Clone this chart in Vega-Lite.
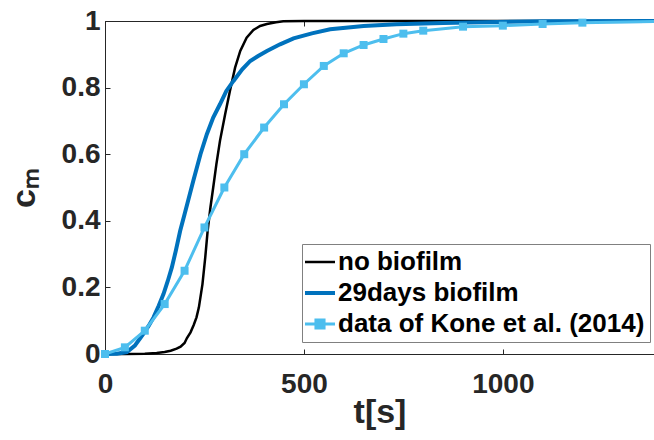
{
  "$schema": "https://vega.github.io/schema/vega-lite/v6.json",
  "width": 549,
  "height": 333,
  "autosize": {"type": "none"},
  "padding": {"left": 105, "top": 21, "right": 0, "bottom": 86},
  "datasets": {
    "model": [
      {"t": 0, "c": 0, "series": "no biofilm"},
      {"t": 50, "c": 0, "series": "no biofilm"},
      {"t": 100, "c": 0.001, "series": "no biofilm"},
      {"t": 130, "c": 0.003, "series": "no biofilm"},
      {"t": 150, "c": 0.006, "series": "no biofilm"},
      {"t": 165, "c": 0.01, "series": "no biofilm"},
      {"t": 180, "c": 0.016, "series": "no biofilm"},
      {"t": 190, "c": 0.022, "series": "no biofilm"},
      {"t": 200, "c": 0.033, "series": "no biofilm"},
      {"t": 206, "c": 0.048, "series": "no biofilm"},
      {"t": 215, "c": 0.065, "series": "no biofilm"},
      {"t": 223, "c": 0.087, "series": "no biofilm"},
      {"t": 230, "c": 0.11, "series": "no biofilm"},
      {"t": 236, "c": 0.14, "series": "no biofilm"},
      {"t": 245, "c": 0.21, "series": "no biofilm"},
      {"t": 252, "c": 0.29, "series": "no biofilm"},
      {"t": 258, "c": 0.37, "series": "no biofilm"},
      {"t": 265, "c": 0.44, "series": "no biofilm"},
      {"t": 272, "c": 0.5, "series": "no biofilm"},
      {"t": 280, "c": 0.57, "series": "no biofilm"},
      {"t": 289, "c": 0.64, "series": "no biofilm"},
      {"t": 302, "c": 0.72, "series": "no biofilm"},
      {"t": 314, "c": 0.79, "series": "no biofilm"},
      {"t": 327, "c": 0.86, "series": "no biofilm"},
      {"t": 340, "c": 0.91, "series": "no biofilm"},
      {"t": 356, "c": 0.95, "series": "no biofilm"},
      {"t": 373, "c": 0.973, "series": "no biofilm"},
      {"t": 390, "c": 0.985, "series": "no biofilm"},
      {"t": 407, "c": 0.991, "series": "no biofilm"},
      {"t": 430, "c": 0.996, "series": "no biofilm"},
      {"t": 448, "c": 0.999, "series": "no biofilm"},
      {"t": 500, "c": 1, "series": "no biofilm"},
      {"t": 1400, "c": 1, "series": "no biofilm"},
      {"t": 0, "c": 0, "series": "29days biofilm"},
      {"t": 30, "c": 0.001, "series": "29days biofilm"},
      {"t": 55, "c": 0.006, "series": "29days biofilm"},
      {"t": 75, "c": 0.025, "series": "29days biofilm"},
      {"t": 96, "c": 0.06, "series": "29days biofilm"},
      {"t": 110, "c": 0.085, "series": "29days biofilm"},
      {"t": 122, "c": 0.11, "series": "29days biofilm"},
      {"t": 135, "c": 0.145, "series": "29days biofilm"},
      {"t": 147, "c": 0.18, "series": "29days biofilm"},
      {"t": 158, "c": 0.22, "series": "29days biofilm"},
      {"t": 168, "c": 0.26, "series": "29days biofilm"},
      {"t": 178, "c": 0.31, "series": "29days biofilm"},
      {"t": 189, "c": 0.37, "series": "29days biofilm"},
      {"t": 200, "c": 0.42, "series": "29days biofilm"},
      {"t": 211, "c": 0.47, "series": "29days biofilm"},
      {"t": 222, "c": 0.52, "series": "29days biofilm"},
      {"t": 240, "c": 0.6, "series": "29days biofilm"},
      {"t": 256, "c": 0.66, "series": "29days biofilm"},
      {"t": 272, "c": 0.71, "series": "29days biofilm"},
      {"t": 289, "c": 0.75, "series": "29days biofilm"},
      {"t": 305, "c": 0.79, "series": "29days biofilm"},
      {"t": 323, "c": 0.82, "series": "29days biofilm"},
      {"t": 345, "c": 0.855, "series": "29days biofilm"},
      {"t": 365, "c": 0.88, "series": "29days biofilm"},
      {"t": 385, "c": 0.895, "series": "29days biofilm"},
      {"t": 407, "c": 0.91, "series": "29days biofilm"},
      {"t": 440, "c": 0.93, "series": "29days biofilm"},
      {"t": 474, "c": 0.948, "series": "29days biofilm"},
      {"t": 520, "c": 0.963, "series": "29days biofilm"},
      {"t": 566, "c": 0.975, "series": "29days biofilm"},
      {"t": 650, "c": 0.985, "series": "29days biofilm"},
      {"t": 733, "c": 0.99, "series": "29days biofilm"},
      {"t": 850, "c": 0.994, "series": "29days biofilm"},
      {"t": 985, "c": 0.997, "series": "29days biofilm"},
      {"t": 1100, "c": 0.999, "series": "29days biofilm"},
      {"t": 1400, "c": 1, "series": "29days biofilm"}
    ],
    "kone": [
      {"t": 0, "c": 0, "series": "data of Kone et al. (2014)"},
      {"t": 50, "c": 0.02, "series": "data of Kone et al. (2014)"},
      {"t": 100, "c": 0.07, "series": "data of Kone et al. (2014)"},
      {"t": 150, "c": 0.15, "series": "data of Kone et al. (2014)"},
      {"t": 200, "c": 0.25, "series": "data of Kone et al. (2014)"},
      {"t": 250, "c": 0.38, "series": "data of Kone et al. (2014)"},
      {"t": 300, "c": 0.5, "series": "data of Kone et al. (2014)"},
      {"t": 350, "c": 0.6, "series": "data of Kone et al. (2014)"},
      {"t": 400, "c": 0.68, "series": "data of Kone et al. (2014)"},
      {"t": 450, "c": 0.75, "series": "data of Kone et al. (2014)"},
      {"t": 500, "c": 0.81, "series": "data of Kone et al. (2014)"},
      {"t": 550, "c": 0.865, "series": "data of Kone et al. (2014)"},
      {"t": 600, "c": 0.903, "series": "data of Kone et al. (2014)"},
      {"t": 650, "c": 0.928, "series": "data of Kone et al. (2014)"},
      {"t": 700, "c": 0.946, "series": "data of Kone et al. (2014)"},
      {"t": 750, "c": 0.962, "series": "data of Kone et al. (2014)"},
      {"t": 800, "c": 0.971, "series": "data of Kone et al. (2014)"},
      {"t": 900, "c": 0.983, "series": "data of Kone et al. (2014)"},
      {"t": 1000, "c": 0.986, "series": "data of Kone et al. (2014)"},
      {"t": 1100, "c": 0.991, "series": "data of Kone et al. (2014)"},
      {"t": 1200, "c": 0.995, "series": "data of Kone et al. (2014)"},
      {"t": 1400, "c": 0.999, "series": "data of Kone et al. (2014)"}
    ]
  },
  "config": {
    "font": "Liberation Sans",
    "view": {"stroke": "#262626", "strokeWidth": 1},
    "axis": {
      "grid": false,
      "labelFont": "Liberation Sans",
      "labelFontWeight": "bold",
      "labelFontSize": 28,
      "labelColor": "#262626",
      "labelFlush": false,
      "labelOverlap": false,
      "titleFont": "Liberation Sans",
      "titleFontWeight": "bold",
      "titleFontSize": 34,
      "titleColor": "#262626",
      "domainColor": "#262626",
      "domainWidth": 1,
      "tickColor": "#262626",
      "tickSize": -5,
      "tickWidth": 1
    },
    "legend": {
      "orient": "none",
      "legendX": 197,
      "legendY": 223,
      "strokeColor": "#808080",
      "fillColor": "white",
      "padding": 5,
      "labelFont": "Liberation Sans",
      "labelFontSize": 26,
      "labelFontWeight": "bold",
      "labelColor": "#000000",
      "labelLimit": 400,
      "symbolType": "stroke",
      "symbolSize": 900,
      "labelOffset": 5,
      "rowPadding": 5,
      "cornerRadius": 0
    }
  },
  "resolve": {"axis": {"x": "independent", "y": "independent"}},
  "layer": [
    {
      "data": {"name": "model"},
      "mark": {"type": "line"},
      "encoding": {
        "x": {
          "field": "t", "type": "quantitative",
          "scale": {"domain": [0, 1380], "nice": false, "zero": false},
          "axis": {"values": [0, 500, 1000], "format": "d", "title": "t[s]", "labelPadding": 21, "titlePadding": -3}
        },
        "y": {
          "field": "c", "type": "quantitative",
          "scale": {"domain": [0, 1], "nice": false},
          "axis": {"values": [0, 0.2, 0.4, 0.6, 0.8, 1], "format": ".1~f", "title": "cₘ", "labelPadding": 10, "titlePadding": 20}
        },
        "color": {
          "field": "series", "type": "nominal",
          "scale": {
            "domain": ["no biofilm", "29days biofilm", "data of Kone et al. (2014)"],
            "range": ["#000000", "#0072BD", "#4DBEEE"]
          },
          "legend": {
            "title": null,
            "encode": {
              "symbols": {
                "update": {
                  "shape": {"signal": "datum.value === 'data of Kone et al. (2014)' ? 'M-1,0H1M-0.27,-0.27H0.27V0.27H-0.27Z' : 'stroke'"},
                  "strokeWidth": {"signal": "datum.value === 'no biofilm' ? 2.5 : (datum.value === '29days biofilm' ? 4 : 3)"},
                  "fill": {"signal": "datum.value === 'data of Kone et al. (2014)' ? '#4DBEEE' : 'transparent'"},
                  "opacity": {"value": 1}
                }
              }
            }
          }
        },
        "strokeWidth": {
          "field": "series", "type": "nominal",
          "scale": {"domain": ["no biofilm", "29days biofilm"], "range": [2.5, 4]},
          "legend": null
        }
      }
    },
    {
      "data": {"name": "kone"},
      "mark": {"type": "line", "strokeWidth": 3, "point": {"shape": "square", "filled": true, "size": 64, "opacity": 1}},
      "encoding": {
        "x": {
          "field": "t", "type": "quantitative",
          "axis": {"orient": "top", "values": [0, 500, 1000], "labels": false, "title": null, "domain": false}
        },
        "y": {"field": "c", "type": "quantitative", "axis": null},
        "color": {"field": "series", "type": "nominal"}
      }
    }
  ]
}
